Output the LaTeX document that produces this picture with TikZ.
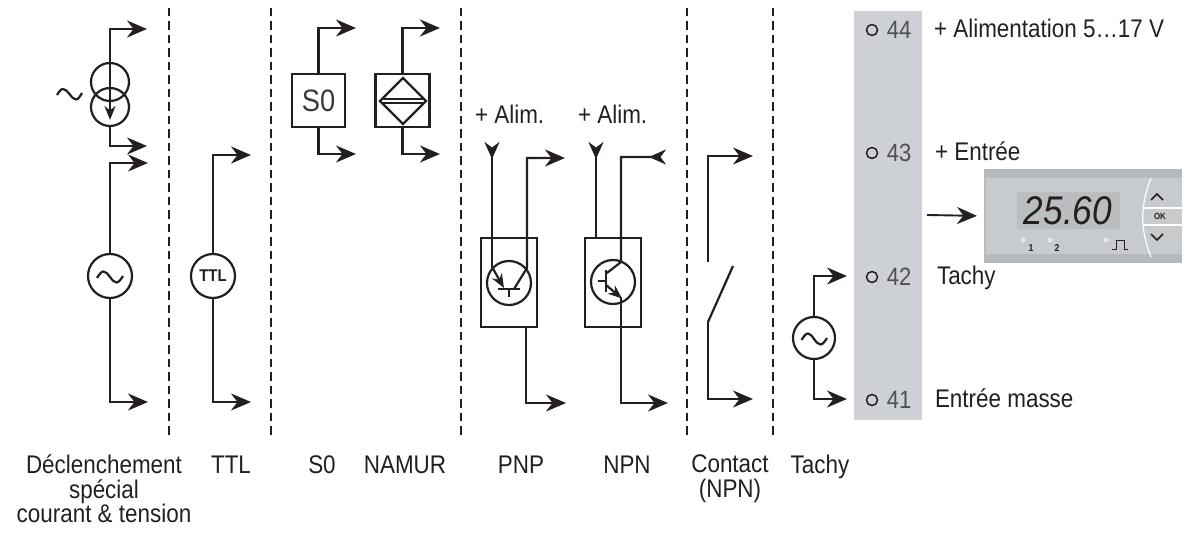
\documentclass[tikz,border=0pt]{standalone}
\usepackage{fontspec}
\setmainfont[FakeStretch=0.88]{Liberation Sans}
\usetikzlibrary{arrows.meta}
\definecolor{ink}{HTML}{231F20}
\definecolor{stripgray}{HTML}{CDD0D4}
\definecolor{numgray}{HTML}{505050}
\definecolor{sogray}{HTML}{3A3A3A}
\definecolor{dispout}{HTML}{B7BABD}
\definecolor{dispin}{HTML}{C8CBCE}
\definecolor{lcdgray}{HTML}{BBBEC1}
\definecolor{ledgray}{HTML}{E6E8EA}
\begin{document}
\begin{tikzpicture}[x=1pt,y=-1pt,line width=2.2pt,color=ink,
 every node/.style={inner sep=0pt,outer sep=0pt},
 arr/.style={-{Stealth[length=20pt,width=17pt,inset=6.5pt]}},
 rarr/.style={-{Stealth[length=17pt,width=15pt,inset=5.5pt,reversed]}},
 earr/.style={-{Stealth[length=14pt,width=11pt,inset=4.5pt]}},
 sep/.style={line width=2.6pt,dash pattern=on 8.5pt off 5pt},
 lbl/.style={font=\fontsize{25.5}{24.5}\selectfont,text=ink},
 num/.style={font=\fontsize{25}{25}\selectfont,text=numgray},
 src/.style={circle,draw=ink,line width=2.2pt,minimum size=#1},
 blk/.style={rectangle,draw=ink,line width=2.2pt},
 wave/.style={line width=2.2pt}
]
\useasboundingbox (0,0) rectangle (1186,534);

% separators
\foreach \x in {169,271,461,687,773} \draw[sep] (\x,8) -- (\x,437);

% ---- current source ----
\node[src=38pt] (csA) at (110,82) {};
\node[src=38pt] (csB) at (110,107) {};
\coordinate (csTop) at (147,29);
\coordinate (csBot) at (147,146);
\coordinate (csTip) at (110,120);
\draw[arr] (csA.north) |- (csTop);
\draw[earr] (csA.north) -- (csTip);
\draw[arr] (csB.south) |- (csBot);
\draw[wave] (57,95) sin (63,89) cos (69.5,94) sin (76,99.5) cos (82,93);

% ---- AC voltage source ----
\node[src=44pt] (ac) at (110,276) {};
\draw[wave] (97,278) sin (103.5,271.5) cos (110,277) sin (116.5,282.5) cos (123,276);
\coordinate (acTop) at (148,163);
\coordinate (acBot) at (148,402);
\draw[arr] (ac.north) |- (acTop);
\draw[arr] (ac.south) |- (acBot);

% ---- TTL ----
\node[src=44pt,font=\bfseries\fontsize{17}{17}\selectfont] (ttl) at (213,276) {TTL};
\coordinate (ttlTop) at (251,155);
\coordinate (ttlBot) at (251,402);
\draw[arr] (ttl.north) |- (ttlTop);
\draw[arr] (ttl.south) |- (ttlBot);

% ---- S0 ----
\node[blk,minimum width=53pt,minimum height=53pt,font=\fontsize{31}{31}\selectfont,text=sogray] (s0) at (318.5,100.5) {S0};
\coordinate (s0Top) at (356,28);
\coordinate (s0Bot) at (356,154);
\draw[arr] (s0.north) |- (s0Top);
\draw[arr] (s0.south) |- (s0Bot);

% ---- NAMUR ----
\node[blk,minimum width=54pt,minimum height=53pt] (nam) at (402.5,100.5) {};
\draw (380,101) -- (403,78) -- (426,101) -- (403,124) -- cycle;
\draw[line width=1.5pt] (381,98.8) -- (425,98.8) (381,103.2) -- (425,103.2);
\coordinate (namTop) at (440,28);
\coordinate (namBot) at (440,154);
\draw[arr] (nam.north) |- (namTop);
\draw[arr] (nam.south) |- (namBot);

% ---- PNP ----
\node[lbl,anchor=base west] (alimP) at (475,124) {+ Alim.};
\node[blk,minimum width=56pt,minimum height=89pt] (pnp) at (509,282.5) {};
\node[src=44pt] (pnpC) at (509,283) {};
\coordinate (pnpIn) at (492,142);
\coordinate (pnpOut) at (565,158);
\draw[rarr] (492,267) -- (pnpIn);
\draw[earr] (492,267) -- (504,288);
\draw (498,289) -- (520,289) (509,289) -- (509,297);
\draw[arr] (514,289) -- (527,268) -- (527,158) -- (pnpOut);
\coordinate (pnpBot) at (566,403);
\draw[arr] (526,327) -- (526,403) -- (pnpBot);

% ---- NPN ----
\node[lbl,anchor=base west] (alimN) at (578,124) {+ Alim.};
\node[blk,minimum width=56pt,minimum height=89pt] (npn) at (613,282.5) {};
\node[src=44pt] (npnC) at (613,282) {};
\coordinate (npnIn) at (596,142);
\coordinate (npnRet) at (666,157);
\draw[rarr] (npn.north -| npnIn) -- (npnIn);
\draw[rarr] (607,273) -- (621,262) -- (621,157) -- (npnRet);
\draw (606,270) -- (606,292) (598,281) -- (606,281);
\draw[earr] (606,285) -- (622,298.5);
\coordinate (npnBot) at (668,403);
\draw[arr] (621,297) -- (621,403) -- (npnBot);

% ---- Contact ----
\coordinate (ctTop) at (753,156);
\coordinate (ctBot) at (753,399);
\draw[arr] (708,262) -- (708,156) -- (ctTop);
\draw (708,322) -- (733,266);
\draw[arr] (708,322) -- (708,399) -- (ctBot);

% ---- Tachy ----
\node[src=42pt] (tach) at (814,338) {};
\draw[wave] (801.5,340) sin (808,333.5) cos (814,339) sin (820.5,344.5) cos (827,338);
\coordinate (t42) at (847,276);
\coordinate (t41) at (847,399);
\draw[arr] (tach.north) |- (t42);
\draw[arr] (tach.south) |- (t41);

% ---- terminal strip ----
\fill[stripgray] (854,11) rectangle (922,420);
\foreach \y/\n in {30/44,153/43,277/42,400/41}{
  \node[circle,draw=ink,line width=1.5pt,minimum size=11pt] (k\n) at (872,\y) {};
  \node[num,anchor=base] (n\n) at (899,\y+8.5) {\n};
}
\node[lbl,anchor=base west] (l44) at (934,37.5) {+ Alimentation 5…17 V};
\node[lbl,anchor=base west] (l43) at (935,161) {+ Entrée};
\node[lbl,anchor=base west] (l42) at (937,284.5) {Tachy};
\node[lbl,anchor=base west] (l41) at (935,407.5) {Entrée masse};

% ---- display ----
\node[fill=dispout,minimum width=198pt,minimum height=94pt,anchor=north west] (disp) at (984,169) {};
\fill[dispin] (986,178) rectangle (1182,254);
\fill[lcdgray] (1017,192) rectangle (1120,229);
\node[font=\itshape\fontsize{40}{40}\selectfont,text=ink] (digits) at (1068,211) {25.60};
\fill[ledgray] (1023,240) circle (2.6pt) (1050,240) circle (2.6pt) (1106,240) circle (2.6pt);
\node[font=\bfseries\fontsize{10}{10}\selectfont] (led1) at (1031,248) {1};
\node[font=\bfseries\fontsize{10}{10}\selectfont] (led2) at (1057,248) {2};
\draw[line width=1pt] (1112,249.5) -- (1116,249.5) -- (1116,241) -- (1124,241) -- (1124,249.5) -- (1128,249.5);
\draw[white,line width=1.2pt] (1151,178) .. controls (1140,205) and (1140,230) .. (1151,257);
\draw[white,line width=1.2pt] (1143.5,208) -- (1182,208) (1143.5,225) -- (1182,225);
\draw[line width=1.5pt] (1151,200) -- (1157,194) -- (1163,200);
\draw[line width=1.5pt] (1151,234) -- (1157,240) -- (1163,234);
\node[font=\bfseries\fontsize{9}{9}\selectfont] (okk) at (1160,216.5) {OK};
\coordinate (dispIn) at (927,215);
\draw[arr,line width=1.9pt,shorten >=7pt] (dispIn) -- (disp.west);

% ---- bottom labels ----
\node[lbl,align=center,anchor=north] (lDecl) at (104,455) {Déclenchement\\spécial\\courant \& tension};
\node[lbl,anchor=base] (lTTL) at (231,473) {TTL};
\node[lbl,anchor=base] (lS0) at (322,473) {S0};
\node[lbl,anchor=base] (lNam) at (405,473) {NAMUR};
\node[lbl,anchor=base] (lPNP) at (521,473) {PNP};
\node[lbl,anchor=base] (lNPN) at (627,473) {NPN};
\node[lbl,align=center,anchor=north] (lCont) at (730,455) {Contact\\(NPN)};
\node[lbl,anchor=base] (lTach) at (820,473) {Tachy};
\end{tikzpicture}
\end{document}
